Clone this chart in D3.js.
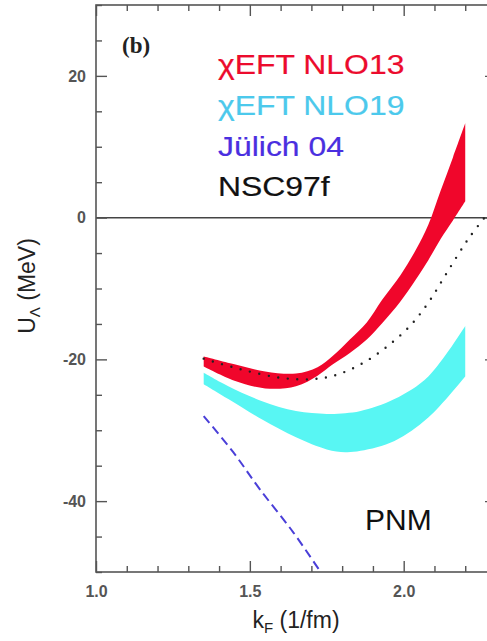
<!DOCTYPE html>
<html>
<head>
<meta charset="utf-8">
<script src="https://cdn.jsdelivr.net/npm/d3@7"></script>
<style>
  html, body { margin: 0; padding: 0; background: #fff; overflow: hidden; }
  svg { display: block; }
</style>
</head>
<body>
<svg id="chart" width="487" height="641"></svg>
<script>
// Lambda single-particle potential in pure neutron matter vs Fermi momentum

// chiral EFT NLO13 band
const kNLO13 = [1.35, 1.45, 1.55, 1.65, 1.72, 1.77, 1.825, 1.88, 1.93, 1.99, 2.04, 2.08, 2.12, 2.16, 2.20];
const nlo13Upper = [-19.6, -20.7, -21.7, -22.0, -21.1, -19.5, -17.2, -14.8, -11.6, -8.1, -4.5, -1.0, 3.8, 8.5, 13.3];
const nlo13Lower = [-21.0, -23.0, -24.1, -23.8, -22.3, -20.7, -19.1, -17.2, -14.9, -11.8, -8.7, -6.0, -3.0, -0.4, 2.3];

// chiral EFT NLO19 band
const kNLO19 = [1.35, 1.43, 1.54, 1.65, 1.75, 1.81, 1.86, 1.97, 2.08, 2.20];
const nlo19Upper = [-21.9, -23.8, -25.9, -27.3, -27.7, -27.6, -27.3, -25.6, -22.4, -15.3];
const nlo19Lower = [-23.5, -25.6, -28.5, -31.0, -32.7, -33.1, -32.9, -31.5, -28.2, -22.4];

// Jülich 04 (dashed)
const kJulich = [1.35, 1.446, 1.532, 1.641, 1.73];
const uJulich = [-28.0, -33.1, -38.3, -44.4, -50.0];

// NSC97f (dotted)
const kNSC = [1.35, 1.47, 1.60, 1.70, 1.78, 1.86, 1.94, 2.02, 2.08, 2.14, 2.21, 2.27];
const uNSC = [-19.9, -21.4, -22.6, -22.8, -22.2, -20.7, -18.4, -15.3, -12.0, -7.8, -3.0, 0.4];

// axes
const xDomain = [1.0, 2.3];
const yDomain = [-50, 30];
const xMajor = [1.0, 1.5, 2.0];
const xTickLabels = ["1.0", "1.5", "2.0"];
const yMajor = [-40, -20, 0, 20];
const yTickLabels = ["-40", "-20", "0", "20"];

const legendLabels = ["χEFT NLO13", "χEFT NLO19", "Jülich 04", "NSC97f"];
const legendColors = ["#ec0b2d", "#4cc9ec", "#4a2fe0", "#111111"];

const plotLeft = 96, plotRight = 496, plotTop = 5, plotBottom = 572;
const svg = d3.select("#chart");

const x = d3.scaleLinear().domain(xDomain).range([plotLeft, plotRight]);
const y = d3.scaleLinear().domain(yDomain).range([plotBottom, plotTop]);

svg.append("defs").append("clipPath").attr("id", "plotClip")
  .append("rect").attr("x", plotLeft).attr("y", plotTop)
  .attr("width", plotRight - plotLeft).attr("height", plotBottom - plotTop);

const plot = svg.append("g").attr("clip-path", "url(#plotClip)");

const band = (ks, lo, hi) => ks.map((k, i) => ({ k, lo: lo[i], hi: hi[i] }));
const area = d3.area()
  .x(d => x(d.k)).y0(d => y(d.lo)).y1(d => y(d.hi))
  .curve(d3.curveCatmullRom.alpha(0.5));
const line = d3.line()
  .x(d => x(d.k)).y(d => y(d.u))
  .curve(d3.curveCatmullRom.alpha(0.5));

// zero line
plot.append("line")
  .attr("x1", x(xDomain[0])).attr("x2", x(xDomain[1]))
  .attr("y1", y(0)).attr("y2", y(0))
  .attr("stroke", "#444").attr("stroke-width", 1.5);

plot.append("path")
  .datum(band(kNLO19, nlo19Lower, nlo19Upper))
  .attr("d", area).attr("fill", "#58f6f3");

plot.append("path")
  .datum(band(kNLO13, nlo13Lower, nlo13Upper))
  .attr("d", area).attr("fill", "#f0062b");

plot.append("path")
  .datum(kJulich.map((k, i) => ({ k, u: uJulich[i] })))
  .attr("d", line).attr("fill", "none")
  .attr("stroke", "#4a3fd8").attr("stroke-width", 2)
  .attr("stroke-dasharray", "9,5");

plot.append("path")
  .datum(kNSC.map((k, i) => ({ k, u: uNSC[i] })))
  .attr("d", line).attr("fill", "none")
  .attr("stroke", "#222").attr("stroke-width", 2.4)
  .attr("stroke-linecap", "round")
  .attr("stroke-dasharray", "0,9.6");

// frame ticks (inward on all four sides)
const tickStyle = g => {
  g.select(".domain").remove();
  g.selectAll(".tick line").attr("stroke", "#555").attr("stroke-width", 1.4);
  g.selectAll(".tick text")
    .attr("font-family", "Liberation Sans, Arial, sans-serif")
    .attr("font-size", 16).attr("font-weight", "bold").attr("fill", "#555");
};
const xMinor = d3.range(10, 24).map(v => v / 10).filter(v => !xMajor.some(m => Math.abs(m - v) < 1e-9));
const yMinor = d3.range(-50, 31, 5).filter(v => !yMajor.includes(v));

svg.append("g").attr("transform", `translate(0,${plotBottom})`)
  .call(d3.axisBottom(x).tickValues(xMajor).tickSize(-11).tickPadding(14)
    .tickFormat((d, i) => xTickLabels[i])).call(tickStyle);
svg.append("g").attr("transform", `translate(0,${plotBottom})`)
  .call(d3.axisBottom(x).tickValues(xMinor).tickSize(-6).tickFormat("")).call(tickStyle);
svg.append("g").attr("transform", `translate(0,${plotTop})`)
  .call(d3.axisTop(x).tickValues(xMajor).tickSize(-11).tickFormat("")).call(tickStyle);
svg.append("g").attr("transform", `translate(0,${plotTop})`)
  .call(d3.axisTop(x).tickValues(xMinor).tickSize(-6).tickFormat("")).call(tickStyle);

svg.append("g").attr("transform", `translate(${plotLeft},0)`)
  .call(d3.axisLeft(y).tickValues(yMajor).tickSize(-11).tickPadding(10)
    .tickFormat((d, i) => yTickLabels[i])).call(tickStyle);
svg.append("g").attr("transform", `translate(${plotLeft},0)`)
  .call(d3.axisLeft(y).tickValues(yMinor).tickSize(-6).tickFormat("")).call(tickStyle);
svg.append("g").attr("transform", `translate(${plotRight},0)`)
  .call(d3.axisRight(y).tickValues(yMajor).tickSize(-11).tickFormat("")).call(tickStyle);
svg.append("g").attr("transform", `translate(${plotRight},0)`)
  .call(d3.axisRight(y).tickValues(yMinor).tickSize(-6).tickFormat("")).call(tickStyle);

// frame
svg.append("rect")
  .attr("x", plotLeft).attr("y", plotTop)
  .attr("width", plotRight - plotLeft).attr("height", plotBottom - plotTop)
  .attr("fill", "none").attr("stroke", "#555").attr("stroke-width", 1.6);

// axis titles
const xTitle = svg.append("text")
  .attr("x", 296).attr("y", 628).attr("text-anchor", "middle")
  .attr("font-family", "Liberation Sans, Arial, sans-serif")
  .attr("font-size", 23).attr("fill", "#222");
xTitle.append("tspan").text("k");
xTitle.append("tspan").attr("font-size", 15).attr("dy", 5).text("F");
xTitle.append("tspan").attr("dy", -5).text(" (1/fm)");

const yTitle = svg.append("text")
  .attr("transform", "translate(35,286) rotate(-90)")
  .attr("text-anchor", "middle")
  .attr("font-family", "Liberation Sans, Arial, sans-serif")
  .attr("font-size", 23).attr("fill", "#222");
yTitle.append("tspan").text("U");
yTitle.append("tspan").attr("font-size", 15).attr("dy", 5).text("Λ");
yTitle.append("tspan").attr("dy", -5).text(" (MeV)");

// panel tag
svg.append("text")
  .attr("x", 122).attr("y", 53)
  .attr("font-family", "Liberation Serif, Times New Roman, serif")
  .attr("font-size", 23).attr("font-weight", "bold").attr("fill", "#222")
  .text("(b)");

// legend
const legendBaselines = [74, 115, 156, 196];
svg.append("g").selectAll("text")
  .data(legendLabels)
  .join("text")
  .attr("transform", (d, i) => `translate(218,${legendBaselines[i]}) scale(1.14,1)`)
  .attr("font-family", "Liberation Sans, Arial, sans-serif")
  .attr("font-size", 28)
  .attr("fill", (d, i) => legendColors[i])
  .attr("stroke", (d, i) => legendColors[i]).attr("stroke-width", 0.2)
  .text(d => d);

// medium label
svg.append("text")
  .attr("x", 365).attr("y", 530)
  .attr("font-family", "Liberation Sans, Arial, sans-serif")
  .attr("font-size", 30).attr("fill", "#111")
  .text("PNM");
</script>
</body>
</html>
